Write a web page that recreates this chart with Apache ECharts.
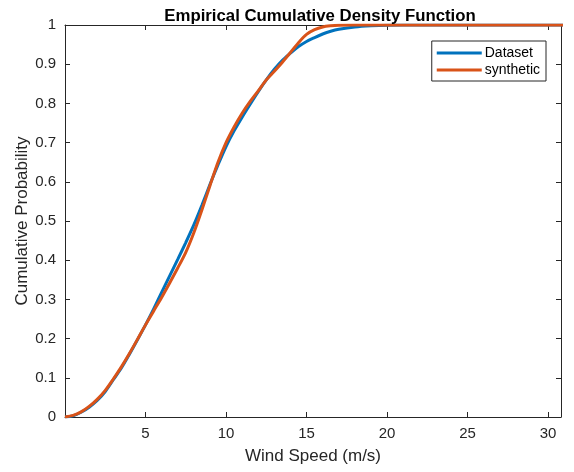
<!DOCTYPE html>
<html>
<head>
<meta charset="utf-8">
<script src="https://cdn.jsdelivr.net/npm/echarts@6/dist/echarts.min.js"></script>
<style>
 html, body { margin: 0; padding: 0; background: #fff; }
 #chart { width: 574px; height: 472px; }
</style>
</head>
<body>
<div id="chart"></div>
<script>
 /*global echarts*/

 // wind speed grid (m/s)
 var speed = [0, 0.5, 1, 1.5, 2, 2.5, 3, 3.5, 4, 4.5, 5, 5.5, 6, 6.5, 7, 7.5, 8, 8.5, 9, 9.5,
  10, 10.5, 11, 11.5, 12, 12.5, 13, 13.5, 14, 14.5, 15, 15.5, 16, 16.5, 17, 18, 19, 20, 22, 31];

 var dataset = [0, 0.003, 0.012, 0.025, 0.042, 0.065, 0.095, 0.125, 0.16, 0.197, 0.235, 0.275, 0.318, 0.36, 0.402, 0.445, 0.49, 0.54, 0.593, 0.643,
  0.69, 0.73, 0.765, 0.798, 0.83, 0.86, 0.887, 0.91, 0.928, 0.945, 0.958, 0.968, 0.977, 0.984, 0.989, 0.995, 0.998, 0.9995, 1, 1];

 var synthetic = [0, 0.004, 0.013, 0.027, 0.045, 0.068, 0.097, 0.128, 0.162, 0.198, 0.235, 0.27, 0.305, 0.342, 0.38, 0.42, 0.47, 0.528, 0.59, 0.65,
  0.7, 0.74, 0.775, 0.805, 0.832, 0.86, 0.882, 0.905, 0.93, 0.955, 0.976, 0.988, 0.995, 0.998, 0.9995, 1, 1, 1, 1, 1];

 var seriesNames = ["Dataset", "synthetic"];

 var d1 = [];
 var d2 = [];
 for (var i = 0; i < speed.length; i++) {
  d1.push([speed[i], dataset[i]]);
  d2.push([speed[i], synthetic[i]]);
 }

 var font = "Liberation Sans";
 var axisCol = "#262626";

 var dom = document.getElementById("chart");
 var myChart = echarts.init(dom);
 var option = {
  animation: false,
  title: {
   text: "Empirical Cumulative Density Function",
   left: 315,
   textAlign: "center",
   top: 3,
   textStyle: { fontFamily: font, fontSize: 16.8, fontWeight: "bold", color: "#000" }
  },
  legend: {
   data: seriesNames,
   orient: "vertical",
   right: 28,
   top: 41,
   icon: "rect",
   itemWidth: 45,
   itemHeight: 3,
   itemGap: 3,
   padding: [5, 6, 4, 5],
   borderColor: axisCol,
   borderWidth: 1,
   backgroundColor: "#fff",
   textStyle: { fontFamily: font, fontSize: 14, color: "#000", padding: [0, 0, 0, -2] }
  },
  grid: { left: 65, right: 13, top: 25, bottom: 55, containLabel: false },
  xAxis: [{
   type: "value",
   min: 0,
   max: 30.8,
   interval: 5,
   name: "Wind Speed (m/s)",
   nameLocation: "middle",
   nameGap: 31,
   nameMoveOverlap: false,
   nameTextStyle: { fontFamily: font, fontSize: 17, color: axisCol },
   axisLine: { onZero: false, lineStyle: { color: axisCol } },
   axisTick: { inside: true, length: 5, lineStyle: { color: axisCol } },
   axisLabel: { fontFamily: font, fontSize: 15, color: axisCol, showMinLabel: false, showMaxLabel: false, margin: 9 },
   splitLine: { show: false }
  }, {
   type: "value",
   position: "top",
   min: 0,
   max: 30.8,
   interval: 5,
   axisLine: { show: true, onZero: false, lineStyle: { color: axisCol } },
   axisTick: { inside: true, length: 5, lineStyle: { color: axisCol } },
   axisLabel: { show: false },
   splitLine: { show: false }
  }],
  yAxis: [{
   type: "value",
   min: 0,
   max: 1,
   interval: 0.1,
   name: "Cumulative Probability",
   nameLocation: "middle",
   nameGap: 34,
   nameMoveOverlap: false,
   nameTextStyle: { fontFamily: font, fontSize: 17, color: axisCol },
   axisLine: { show: true, onZero: false, lineStyle: { color: axisCol } },
   axisTick: { show: true, inside: true, length: 5, lineStyle: { color: axisCol } },
   axisLabel: { fontFamily: font, fontSize: 15, color: axisCol, margin: 9 },
   splitLine: { show: false }
  }, {
   type: "value",
   position: "right",
   min: 0,
   max: 1,
   interval: 0.1,
   axisLine: { show: true, onZero: false, lineStyle: { color: axisCol } },
   axisTick: { show: true, inside: true, length: 5, lineStyle: { color: axisCol } },
   axisLabel: { show: false },
   splitLine: { show: false }
  }],
  series: [{
   name: seriesNames[0],
   type: "line",
   data: d1,
   smooth: 0.3,
   showSymbol: false,
   lineStyle: { width: 3, color: "#0072BD" },
   itemStyle: { color: "#0072BD" }
  }, {
   name: seriesNames[1],
   type: "line",
   data: d2,
   smooth: 0.3,
   showSymbol: false,
   lineStyle: { width: 3, color: "#D95319" },
   itemStyle: { color: "#D95319" }
  }]
 };
 myChart.setOption(option, true);
</script>
</body>
</html>
